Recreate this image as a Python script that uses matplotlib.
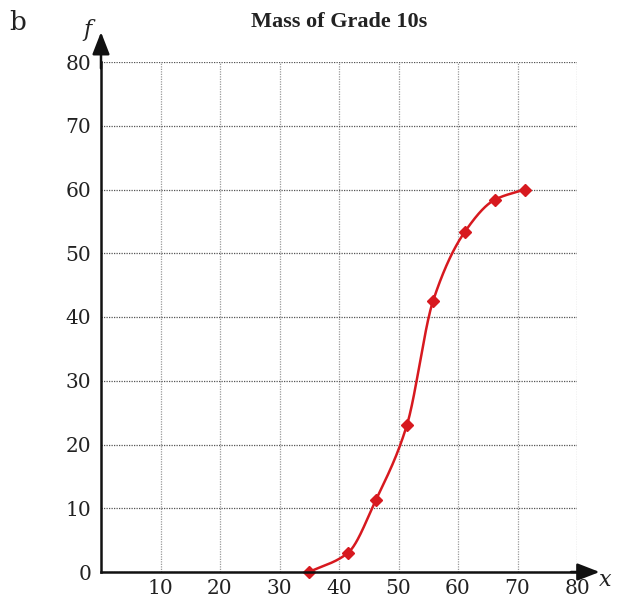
"""
Cumulative frequency curve: Mass of Grade 10s
"""

import matplotlib
matplotlib.use('Agg')
import matplotlib.pyplot as plt
import numpy as np

# ── Data ──────────────────────────────────────────────────────────────────────
mass = [35, 41.5, 46.2, 51.4, 55.8, 61.1, 66.2, 71.2]
cum_freq = [0, 3, 11.3, 23, 42.5, 53.3, 58.4, 60]
x_ticks = [10, 20, 30, 40, 50, 60, 70, 80]
y_ticks = [0, 10, 20, 30, 40, 50, 60, 70, 80]


def monotone_curve(x, y, n=400):
    # Fritsch-Carlson monotone cubic, only used to draw a smooth line
    x = np.asarray(x, float)
    y = np.asarray(y, float)
    h = np.diff(x)
    d = np.diff(y) / h
    m = np.zeros_like(y)
    m[0], m[-1] = d[0], d[-1]
    for i in range(1, len(x) - 1):
        if d[i - 1] * d[i] <= 0:
            m[i] = 0
        else:
            w1 = 2 * h[i] + h[i - 1]
            w2 = h[i] + 2 * h[i - 1]
            m[i] = (w1 + w2) / (w1 / d[i - 1] + w2 / d[i])
    xs = np.linspace(x[0], x[-1], n)
    k = np.clip(np.searchsorted(x, xs) - 1, 0, len(x) - 2)
    t = (xs - x[k]) / h[k]
    h00 = 2 * t**3 - 3 * t**2 + 1
    h10 = t**3 - 2 * t**2 + t
    h01 = -2 * t**3 + 3 * t**2
    h11 = t**3 - t**2
    ys = h00 * y[k] + h10 * h[k] * m[k] + h01 * y[k + 1] + h11 * h[k] * m[k + 1]
    return xs, ys


plt.rcParams.update({
    'font.family': 'DejaVu Serif',
    'font.size': 15,
})

red = '#d7191f'
ink = '#222222'

fig = plt.figure(figsize=(6.18, 6.05), dpi=100)
ax = fig.add_axes([101 / 618, 33 / 605, 476 / 618, 510 / 605])

xs, ys = monotone_curve(mass, cum_freq)
ax.plot(xs, ys, color=red, linewidth=1.8, zorder=3)
ax.plot(mass, cum_freq, linestyle='none', marker='D', markersize=6,
        color=red, zorder=4, clip_on=False)

ax.set_xlim(0, 80)
ax.set_ylim(0, 80)
ax.set_xticks(x_ticks)
ax.set_yticks(y_ticks)
ax.tick_params(length=0, labelsize=14.5, colors=ink)
ax.tick_params(axis='x', pad=5)
ax.tick_params(axis='y', pad=7)

ax.grid(True, axis='y', linestyle=(0, (1, 1)), linewidth=0.9,
        color='#555555', zorder=1)
ax.grid(True, axis='x', linestyle=(0, (1, 1)), linewidth=0.9,
        color='#9a9a9a', zorder=1)

for side in ['top', 'right']:
    ax.spines[side].set_visible(False)
for side in ['left', 'bottom']:
    ax.spines[side].set_linewidth(1.8)
    ax.spines[side].set_color('#111111')
    ax.spines[side].set_zorder(5)

# axis arrows
ax.annotate('', xy=(83.8, 0), xytext=(79, 0),
            arrowprops=dict(arrowstyle='-|>,head_length=0.9,head_width=0.35',
                            color='#111111', lw=1.8, shrinkA=0, shrinkB=0),
            annotation_clip=False)
ax.annotate('', xy=(0, 84.7), xytext=(0, 79),
            arrowprops=dict(arrowstyle='-|>,head_length=0.9,head_width=0.35',
                            color='#111111', lw=1.8, shrinkA=0, shrinkB=0),
            annotation_clip=False)

# axis letters, title and panel label
fig.text(605 / 618, 1 - 580 / 605, 'x', fontsize=16, style='italic',
         ha='center', va='center', color=ink)
fig.text(88 / 618, 1 - 30 / 605, 'f', fontsize=16, style='italic',
         ha='center', va='center', color=ink)
fig.text(339 / 618, 1 - 22 / 605, 'Mass of Grade 10s', fontsize=16,
         fontweight='bold', family='Liberation Serif',
         ha='center', va='center', color=ink)
fig.text(18 / 618, 1 - 22 / 605, 'b', fontsize=19, ha='center', va='center',
         color=ink)

fig.savefig('out.png', dpi=100, facecolor='white')
